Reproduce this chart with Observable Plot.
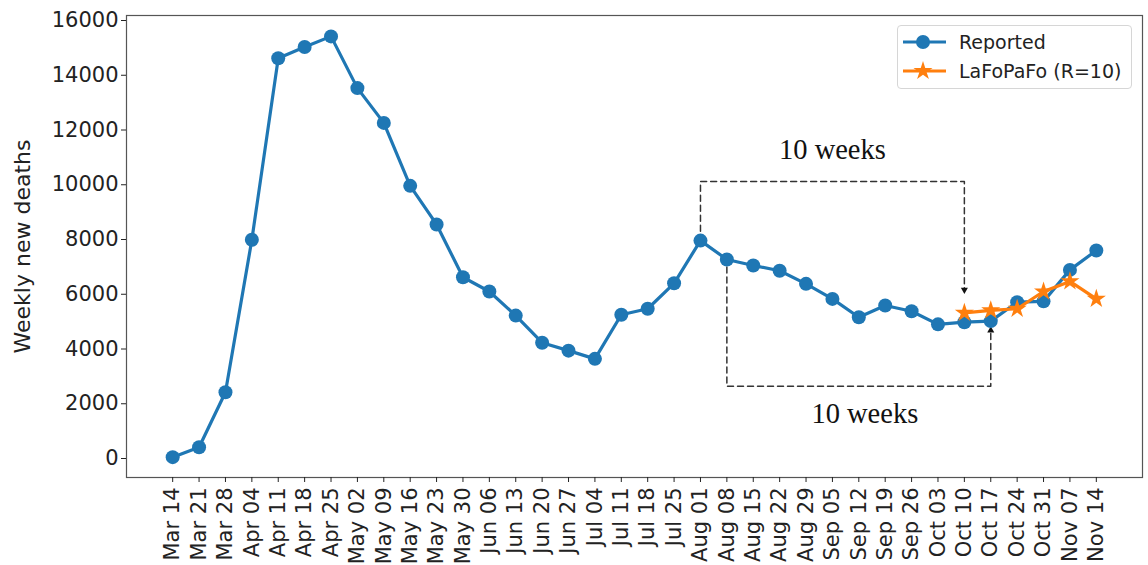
<!DOCTYPE html>
<html>
<head>
<meta charset="utf-8">
<script src="https://cdn.jsdelivr.net/npm/d3@7"></script>
<script src="https://cdn.jsdelivr.net/npm/@observablehq/plot@0.6"></script>
<style>
  body { margin: 0; background: white; }
  #wrap { position: relative; width: 1148px; height: 565px; }
  #legend {
    position: absolute; left: 897px; top: 25px; width: 233px; height: 62px;
    border: 1px solid #d6d6d6; border-radius: 4px; background: rgba(255,255,255,0.85);
    font-family: "DejaVu Sans", sans-serif; font-size: 19px; color: #222;
  }
  .row { position: absolute; left: 0; height: 28px; display: flex; align-items: center; }
  .row svg { margin-left: 5px; margin-right: 13px; }
</style>
</head>
<body>
<div id="wrap"></div>
<script>
const weeks = ["Mar 14","Mar 21","Mar 28","Apr 04","Apr 11","Apr 18","Apr 25","May 02","May 09","May 16","May 23","May 30","Jun 06","Jun 13","Jun 20","Jun 27","Jul 04","Jul 11","Jul 18","Jul 25","Aug 01","Aug 08","Aug 15","Aug 22","Aug 29","Sep 05","Sep 12","Sep 19","Sep 26","Oct 03","Oct 10","Oct 17","Oct 24","Oct 31","Nov 07","Nov 14"];
const reported = [50, 410, 2420, 7990, 14620, 15030, 15420, 13530, 12260, 9960, 8550, 6620, 6100, 5220, 4230, 3940, 3640, 5250, 5470, 6400, 7960, 7270, 7050, 6860, 6380, 5830, 5160, 5590, 5380, 4900, 4980, 5020, 5710, 5740, 6890, 7600];
const forecastWeeks = ["Oct 10","Oct 17","Oct 24","Oct 31","Nov 07","Nov 14"];
const forecast = [5320, 5410, 5470, 6100, 6470, 5830];
const yTicks = [0, 2000, 4000, 6000, 8000, 10000, 12000, 14000, 16000];

// annotation brackets (week, value)
const upperBracketWeeks = ["Aug 01", "Aug 01", "Oct 10", "Oct 10"];
const upperBracketValues = [8300, 10120, 10120, 6160];
const lowerBracketWeeks = ["Aug 08", "Aug 08", "Oct 17", "Oct 17"];
const lowerBracketValues = [7000, 2640, 2640, 4680];
const annotationWeeks = ["Sep 05", "Sep 12"];
const annotationValues = [11290, 1644];
const annotationTexts = ["10 weeks", "10 weeks"];

const reportedData = weeks.map((w, i) => ({week: w, value: reported[i]}));
const forecastData = forecastWeeks.map((w, i) => ({week: w, value: forecast[i]}));
const upper = upperBracketWeeks.map((w, i) => ({week: w, value: upperBracketValues[i]}));
const lower = lowerBracketWeeks.map((w, i) => ({week: w, value: lowerBracketValues[i]}));
const annos = annotationWeeks.map((w, i) => ({week: w, value: annotationValues[i], text: annotationTexts[i], dx: i === 1 ? 6 : 0}));
const tips = [
  {week: upper[3].week, value: upper[3].value, rot: 180},
  {week: lower[3].week, value: lower[3].value, rot: 0}
];

const chart = Plot.plot({
  width: 1148, height: 565,
  marginLeft: 126, marginRight: 6, marginTop: 15, marginBottom: 88,
  style: {fontFamily: "DejaVu Sans, sans-serif", fontSize: "21px", color: "#222", background: "white"},
  x: {type: "point", domain: weeks, padding: 1.75, round: false},
  y: {domain: [-694, 16183]},
  marks: [
    Plot.frame({stroke: "#555", strokeWidth: 1.2}),
    Plot.axisY({ticks: yTicks, tickSize: 5, tickPadding: 3, tickFormat: d => String(d), label: null, fontSize: 21}),
    Plot.axisY({ticks: [], tickSize: 0, label: "Weekly new deaths", labelAnchor: "center", labelArrow: "none", labelOffset: 112, fontSize: 22}),
    Plot.axisX({tickRotate: -90, tickSize: 5, tickPadding: 5, label: null, fontSize: 21}),
    Plot.line(upper, {x: "week", y: "value", stroke: "#333", strokeWidth: 1.5, strokeDasharray: "6,4"}),
    Plot.line(lower, {x: "week", y: "value", stroke: "#333", strokeWidth: 1.5, strokeDasharray: "6,4"}),
    Plot.dot(tips, {x: "week", y: "value", symbol: "triangle", r: 2.6, fill: "#111", stroke: "none", rotate: "rot"}),
    Plot.line(reportedData, {x: "week", y: "value", stroke: "#1f77b4", strokeWidth: 3.2}),
    Plot.dot(reportedData, {x: "week", y: "value", fill: "#1f77b4", r: 7}),
    Plot.line(forecastData, {x: "week", y: "value", stroke: "#ff7f0e", strokeWidth: 3.2}),
    Plot.dot(forecastData, {x: "week", y: "value", symbol: "star", fill: "#ff7f0e", r: 6}),
    Plot.text(annos.filter(d => d.dx === 0), {x: "week", y: "value", text: "text", fontFamily: "Liberation Serif, Times New Roman, serif", fontSize: 28.5, fill: "#111"}),
    Plot.text(annos.filter(d => d.dx !== 0), {x: "week", y: "value", text: "text", dx: 6, fontFamily: "Liberation Serif, Times New Roman, serif", fontSize: 28.5, fill: "#111"})
  ]
});

const wrap = document.getElementById("wrap");
wrap.appendChild(chart);

const legend = document.createElement("div");
legend.id = "legend";
legend.innerHTML = `
  <div class="row" style="top:2px">
    <svg width="43" height="20"><line x1="0" y1="10" x2="43" y2="10" stroke="#1f77b4" stroke-width="3.2"/><circle cx="20" cy="10" r="7" fill="#1f77b4"/></svg>
    <span>Reported</span>
  </div>
  <div class="row" style="top:31px">
    <svg width="43" height="24"><line x1="0" y1="12" x2="43" y2="12" stroke="#ff7f0e" stroke-width="3.2"/><path id="st" fill="#ff7f0e"/></svg>
    <span>LaFoPaFo (R=10)</span>
  </div>`;
wrap.appendChild(legend);
const star = d3.symbol(d3.symbolStar, Math.PI * 6 * 6)();
const p = legend.querySelector("#st");
p.setAttribute("d", star);
p.setAttribute("transform", "translate(20,12)");
</script>
</body>
</html>
